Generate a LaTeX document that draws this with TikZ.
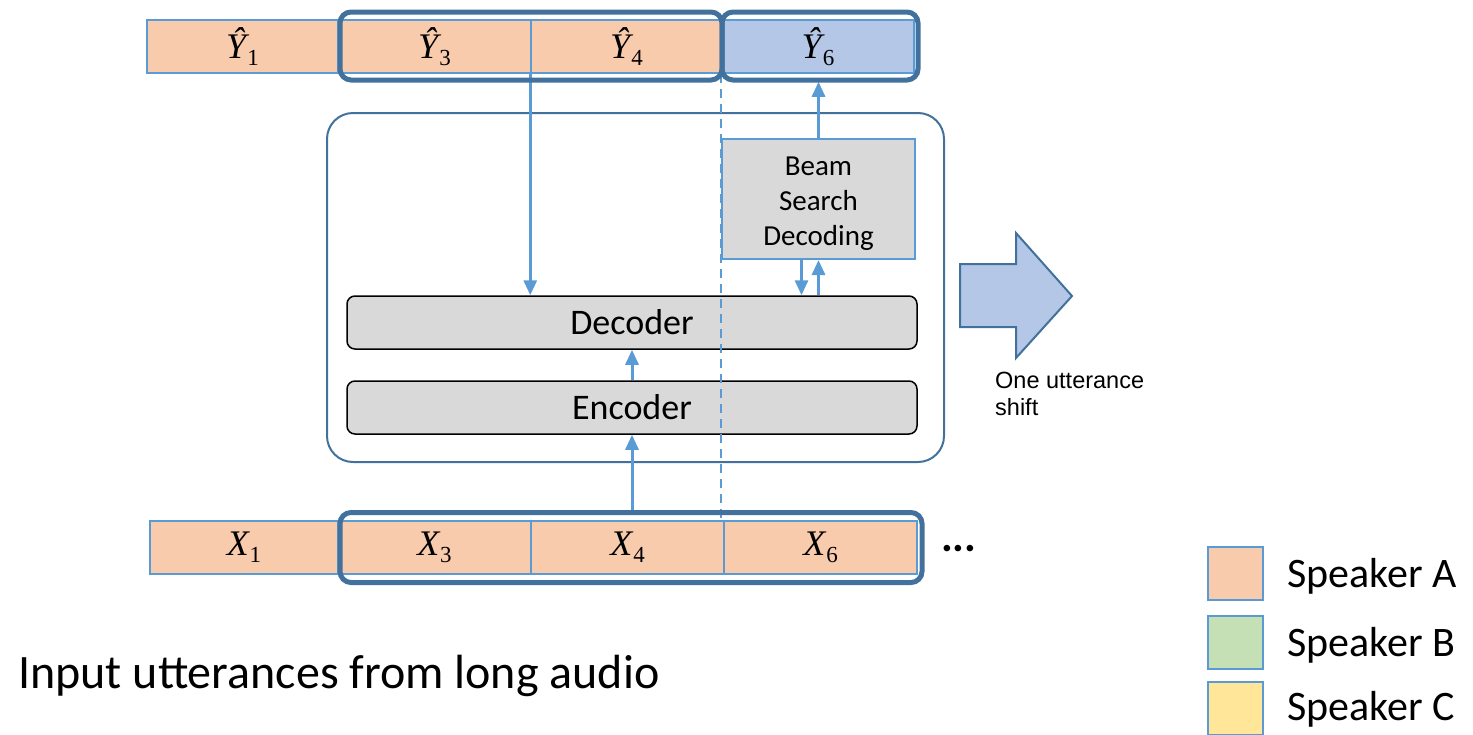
\documentclass[tikz,border=0pt]{standalone}
\usepackage{fontspec}
\setmainfont{Carlito}
\newfontfamily\arialfont{Liberation Sans}
\newfontfamily\varfont{Liberation Serif}
\usetikzlibrary{arrows.meta}

\definecolor{spkA}{HTML}{F8CBAD}
\definecolor{spkB}{HTML}{C5E0B4}
\definecolor{spkC}{HTML}{FFE699}
\definecolor{outblue}{HTML}{B4C7E7}
\definecolor{cellblue}{HTML}{5B9BD5}
\definecolor{framedark}{HTML}{41719C}
\definecolor{boxgray}{HTML}{D9D9D9}

% utterance symbol: italic letter with an upright index
\newcommand\utt[2]{{\varfont\itshape #1}\kern1pt\raisebox{-7pt}{\varfont\fontsize{23}{23}\selectfont #2}}

\tikzset{
  cell/.style={draw=cellblue, line width=1.5, inner sep=0, minimum height=53,
    font=\fontsize{36}{40}\selectfont},
  window/.style={draw=framedark, line width=5, rounded corners=11, inner sep=0},
  block/.style={draw=black, line width=1.5, fill=boxgray, rounded corners=8,
    inner sep=0, minimum width=570, minimum height=53,
    font=\fontsize{36}{42}\selectfont},
  flow/.style={draw=cellblue, line width=3, -{Triangle[length=15,width=13]}},
  legendbox/.style={draw=cellblue, line width=2, inner sep=0,
    minimum width=55, minimum height=53},
  legendtext/.style={anchor=base west, inner sep=0, font=\fontsize{42}{50}\selectfont},
}

\begin{document}
\begin{tikzpicture}[x=1pt, y=-1pt]
\useasboundingbox (0,0) rectangle (1473,734);

% model container
\node[draw=framedark, line width=2, rounded corners=26, inner sep=0,
  minimum width=617, minimum height=349] (model) at (635.5,287.5) {};

% output hypotheses
\node[cell, fill=spkA, minimum width=191] (y1) at (242.5,46.5) {\utt{Ŷ}{1}};
\node[cell, fill=spkA, minimum width=193] (y3) at (434.5,46.5) {\utt{Ŷ}{3}};
\node[cell, fill=spkA, minimum width=191] (y4) at (626.5,46.5) {\utt{Ŷ}{4}};
\node[cell, fill=outblue, minimum width=192] (y6) at (818,46.5) {\utt{Ŷ}{6}};

% input utterances
\node[cell, fill=spkA, minimum width=188] (x1) at (244,547.5) {\utt{X}{1}};
\node[cell, fill=spkA, minimum width=193] (x3) at (434.5,547.5) {\utt{X}{3}};
\node[cell, fill=spkA, minimum width=193] (x4) at (627.5,547.5) {\utt{X}{4}};
\node[cell, fill=spkA, minimum width=193] (x6) at (820.5,547.5) {\utt{X}{6}};
\node[anchor=base west, inner sep=0, font=\bfseries\fontsize{44}{50}\selectfont] (dots) at (941,551) {...};

% network blocks
\node[block] (dec) at (632,322.5) {Decoder};
\node[block] (enc) at (632,407.5) {Encoder};
\node[draw=cellblue, line width=2, fill=boxgray, inner sep=0,
  minimum width=193, minimum height=120] (beam) at (818.5,199) {};
\node[align=center, inner sep=0, font=\fontsize{29}{35}\selectfont] (beamtext)
  at ([yshift=-5]beam.center) {Beam\\Search\\Decoding};

% utterance boundary
\draw[cellblue, line width=2, dash pattern=on 9 off 6] (y6.south west) -- (y6.south west |- x6.north);

% data flow
\draw[flow] (y4.south west) -- (y4.south west |- dec.north);
\draw[flow, shorten >=8] (beam.north) -- (beam.north |- y6.south);
\draw[flow] ([xshift=-17]beam.south) -- ([xshift=-17]beam.south |- dec.north);
\draw[flow] (beam.south |- dec.north) -- (beam.south);
\draw[flow] (enc.north) -- (dec.south);
\draw[flow] (enc.south |- 0,513) -- (enc.south);

% sliding windows
\node[window, minimum width=382, minimum height=68] (ywin) at (531,46) {};
\node[window, minimum width=196, minimum height=68] (ynext) at (820,46) {};
\node[window, minimum width=582, minimum height=70] (xwin) at (631,547.5) {};

% shift arrow
\draw[draw=framedark, line width=2, fill=outblue, line join=miter]
  (960,264) -- (1016,264) -- (1016,233) -- (1072,296) -- (1016,358)
  -- (1016,327) -- (960,327) -- cycle;
\node[anchor=base west, inner sep=0, align=left,
  font=\arialfont\fontsize{23.5}{27}\selectfont] (shift) at (995,415)
  {One utterance\\shift};

% caption
\node[anchor=base west, inner sep=0, font=\fontsize{48}{56}\selectfont] (caption)
  at (18,688) {Input utterances from long audio};

% legend
\node[legendbox, fill=spkA] (la) at (1235.5,573.5) {};
\node[legendbox, fill=spkB] (lb) at (1235.5,642) {};
\node[legendbox, fill=spkC] (lc) at (1235.5,708.5) {};
\node[legendtext] (ta) at (1287,587) {Speaker A};
\node[legendtext] (tb) at (1287,656) {Speaker B};
\node[legendtext] (tc) at (1287,720) {Speaker C};
\end{tikzpicture}
\end{document}
